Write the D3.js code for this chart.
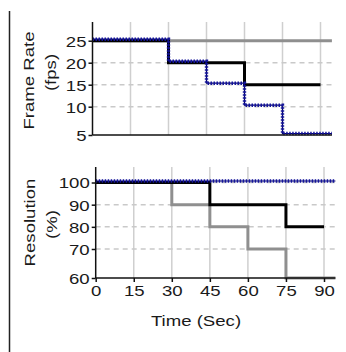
<!DOCTYPE html>
<html>
<head>
<meta charset="utf-8">
<script src="https://cdn.jsdelivr.net/npm/d3@7/dist/d3.min.js"></script>
<style>
  html, body { margin: 0; padding: 0; background: #fff; }
  svg { display: block; }
  text { font-family: "Liberation Sans", Arial, sans-serif; font-size: 15px; fill: #1a1a1a; }
</style>
</head>
<body>
<svg id="chart" width="346" height="352"></svg>
<script>
// Time breakpoints (seconds); the last value is the right edge of the plots
const timeSec = [0, 15, 30, 45, 60, 75, 90, 94.5];
const xTicks = [0, 15, 30, 45, 60, 75, 90];

// Frame rate (fps), step values starting at each breakpoint
const fpsTicks = [5, 10, 15, 20, 25];
const fpsGray  = [25, 25, 25, 25, 25, 25, 25, 25];
const fpsBlack = [25, 25, 20, 20, 15, 15, 15, null];
const fpsBlue  = [25, 25, 20, 15, 10, 5, 5, 5];

// Resolution (%), step values starting at each breakpoint
const resTicks = [60, 70, 80, 90, 100];
const resGray  = [100, 100, 90, 80, 70, 60, 60, 60];
const resBlack = [100, 100, 100, 90, 90, 80, 80, null];
const resBlue  = [100, 100, 100, 100, 100, 100, 100, 100];

const svg = d3.select("#chart");
const STRETCH = 1.24; // wide glyphs

// left frame rule
svg.append("line")
  .attr("x1", 9.5).attr("x2", 9.5).attr("y1", 11).attr("y2", 352)
  .attr("stroke", "#222").attr("stroke-width", 1.5);

function panel(cfg) {
  const x = d3.scaleLinear().domain([0, 90]).range([cfg.x0, cfg.x90]);
  const y = d3.scaleLinear().domain(cfg.yDomain).range(cfg.yRange);
  const xEnd = x(timeSec[timeSec.length - 1]);
  const yTop = cfg.yRange[cfg.yRange.length - 1];
  const yBot = cfg.yRange[0];
  const g = svg.append("g");

  // vertical grid
  g.selectAll(".vg").data(xTicks.slice(1)).join("line")
    .attr("x1", d => x(d)).attr("x2", d => x(d))
    .attr("y1", yTop).attr("y2", yBot)
    .attr("stroke", "#cfcfcf").attr("stroke-width", 1.5);
  // horizontal dashed grid
  g.selectAll(".hg").data(cfg.ticks.slice(1)).join("line")
    .attr("x1", x(0)).attr("x2", xEnd)
    .attr("y1", d => y(d)).attr("y2", d => y(d))
    .attr("stroke", "#c9c9c9").attr("stroke-width", 1.5)
    .attr("stroke-dasharray", "5,4");

  const line = d3.line()
    .defined(d => d.v != null)
    .x(d => x(d.t)).y(d => y(d.v))
    .curve(d3.curveStepAfter);
  const pts = arr => arr.map((v, i) => ({ t: timeSec[i], v }));

  g.append("path").attr("d", line(pts(cfg.gray)))
    .attr("fill", "none").attr("stroke", "#8f8f8f").attr("stroke-width", 3);
  g.append("path").attr("d", line(pts(cfg.black)))
    .attr("fill", "none").attr("stroke", "#000").attr("stroke-width", 3);
  // dotted navy series: thin solid core with a comb of dots over it
  const blue = g.append("g").attr("transform", "translate(0,-1.5)");
  blue.append("path").attr("d", line(pts(cfg.blue)))
    .attr("fill", "none").attr("stroke", "#00006e").attr("stroke-width", 1.2);
  blue.append("path").attr("d", line(pts(cfg.blue)))
    .attr("fill", "none").attr("stroke", "#14149a").attr("stroke-width", 3.4)
    .attr("stroke-dasharray", "1.5,1.5");

  // y axis
  const ya = g.append("g").attr("transform", `translate(${x(0)},0)`)
    .call(d3.axisLeft(y).tickValues(cfg.ticks).tickSize(4).tickPadding(2).tickSizeOuter(0));
  ya.select(".domain").attr("stroke", "#111").attr("stroke-width", 1.5)
    .attr("d", `M0,${yTop}V${yBot}`);
  ya.selectAll(".tick line").attr("stroke", "#111").attr("stroke-width", 1.5);
  ya.selectAll(".tick text")
    .style("font-size", "15px").attr("fill", "#1a1a1a")
    .attr("x", -6 / STRETCH).attr("dy", "0.36em")
    .attr("transform", `scale(${STRETCH},1)`);

  // x axis
  const xa = g.append("g").attr("transform", `translate(0,${yBot})`)
    .call(d3.axisBottom(x).tickValues(cfg.showX ? xTicks : [])
      .tickSize(cfg.showX ? 4 : 0).tickPadding(3).tickSizeOuter(0));
  xa.select(".domain").attr("stroke", "#111").attr("stroke-width", 1.5)
    .attr("d", `M${x(0)},0H${xEnd}`);
  xa.selectAll(".tick line").attr("stroke", "#111").attr("stroke-width", 1.5);
  xa.selectAll(".tick text")
    .style("font-size", "15px").attr("fill", "#1a1a1a")
    .attr("transform", `scale(${STRETCH},1)`)
    .attr("x", 0);

  // rotated axis titles
  const yc = (yTop + yBot) / 2;
  cfg.titles.forEach(t => {
    svg.append("text")
      .attr("text-anchor", "middle")
      .attr("transform", `translate(${t.bx},${yc + t.dy}) rotate(-90) scale(${STRETCH},1)`)
      .text(t.text);
  });
  return { x, y };
}

panel({
  x0: 92.5, x90: 320.5,
  yDomain: [5, 10, 29.25], yRange: [135, 106.7, 22],
  ticks: fpsTicks, gray: fpsGray, black: fpsBlack, blue: fpsBlue,
  showX: false,
  titles: [{ text: "Frame Rate", bx: 34, dy: 2 }, { text: "(fps)", bx: 56, dy: -6 }]
});

panel({
  x0: 95.7, x90: 324,
  yDomain: [60, 70, 107], yRange: [278, 249, 167],
  ticks: resTicks, gray: resGray, black: resBlack, blue: resBlue,
  showX: true,
  titles: [{ text: "Resolution", bx: 35, dy: 0 }, { text: "(%)", bx: 57, dy: 2 }]
});

svg.append("text")
  .attr("text-anchor", "middle")
  .attr("transform", `translate(196,326) scale(${STRETCH},1)`)
  .text("Time (Sec)");
</script>
</body>
</html>
